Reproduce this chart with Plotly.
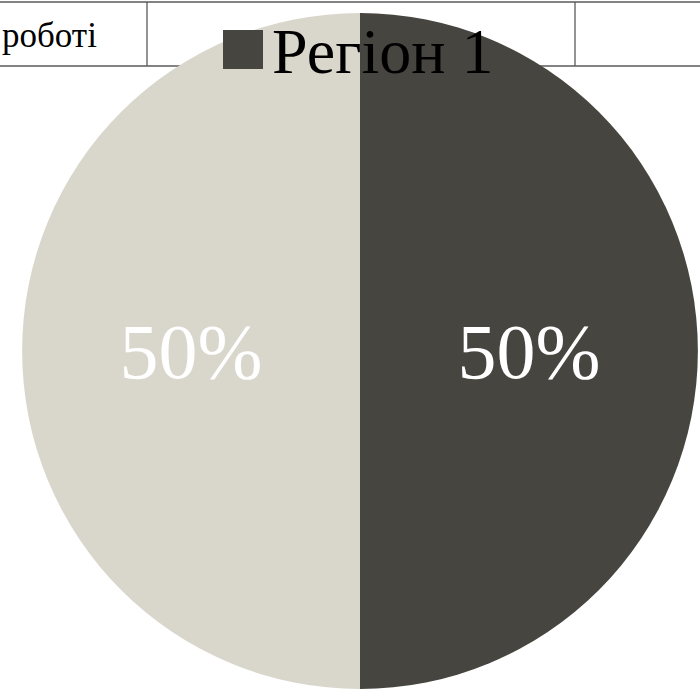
import plotly.graph_objects as go

labels = ["Регіон 1", "Регіон 2"]
values = [50, 50]
colors = ["#46453f", "#d9d6cc"]
table_text = "роботі"

W, H = 700, 689
SERIF = "Liberation Serif"
fig = go.Figure()

fig.add_trace(go.Pie(
    labels=labels,
    values=values,
    sort=False,
    direction="clockwise",
    rotation=0,
    marker=dict(colors=colors, line=dict(width=0)),
    textinfo="percent",
    textposition="inside",
    insidetextorientation="horizontal",
    textfont=dict(family=SERIF, size=78, color="white"),
    domain=dict(x=[21 / W, 699 / W], y=[0, 676 / H]),
    showlegend=False,
    hoverinfo="label+percent",
))

line_col = "#5a5a5a"
shapes = [
    dict(type="line", xref="paper", yref="paper", x0=0, x1=1, y0=1 - 2 / H, y1=1 - 2 / H,
         line=dict(color=line_col, width=1.3), layer="below"),
    dict(type="line", xref="paper", yref="paper", x0=0, x1=1, y0=1 - 66 / H, y1=1 - 66 / H,
         line=dict(color=line_col, width=1.3), layer="below"),
    dict(type="line", xref="paper", yref="paper", x0=147 / W, x1=147 / W, y0=1 - 2 / H, y1=1 - 66 / H,
         line=dict(color=line_col, width=1.3), layer="below"),
    dict(type="line", xref="paper", yref="paper", x0=575 / W, x1=575 / W, y0=1 - 2 / H, y1=1 - 66 / H,
         line=dict(color=line_col, width=1.3), layer="below"),
    # legend swatch
    dict(type="rect", xref="paper", yref="paper", x0=223 / W, x1=263 / W, y0=1 - 69 / H, y1=1 - 30 / H,
         fillcolor=colors[0], line=dict(width=0), layer="above"),
]

annotations = [
    dict(text=table_text, xref="paper", yref="paper", x=99 / W, y=1 - 36 / H,
         xanchor="right", yanchor="middle", showarrow=False,
         font=dict(family=SERIF, size=35, color="black")),
    dict(text=labels[0], xref="paper", yref="paper", x=270 / W, y=1 - 52 / H,
         xanchor="left", yanchor="middle", showarrow=False,
         font=dict(family=SERIF, size=64, color="black")),
]

fig.update_layout(
    width=W, height=H,
    margin=dict(l=0, r=0, t=0, b=0),
    paper_bgcolor="white",
    plot_bgcolor="white",
    font=dict(family=SERIF),
    shapes=shapes,
    annotations=annotations,
)

fig.write_html("out.html")
